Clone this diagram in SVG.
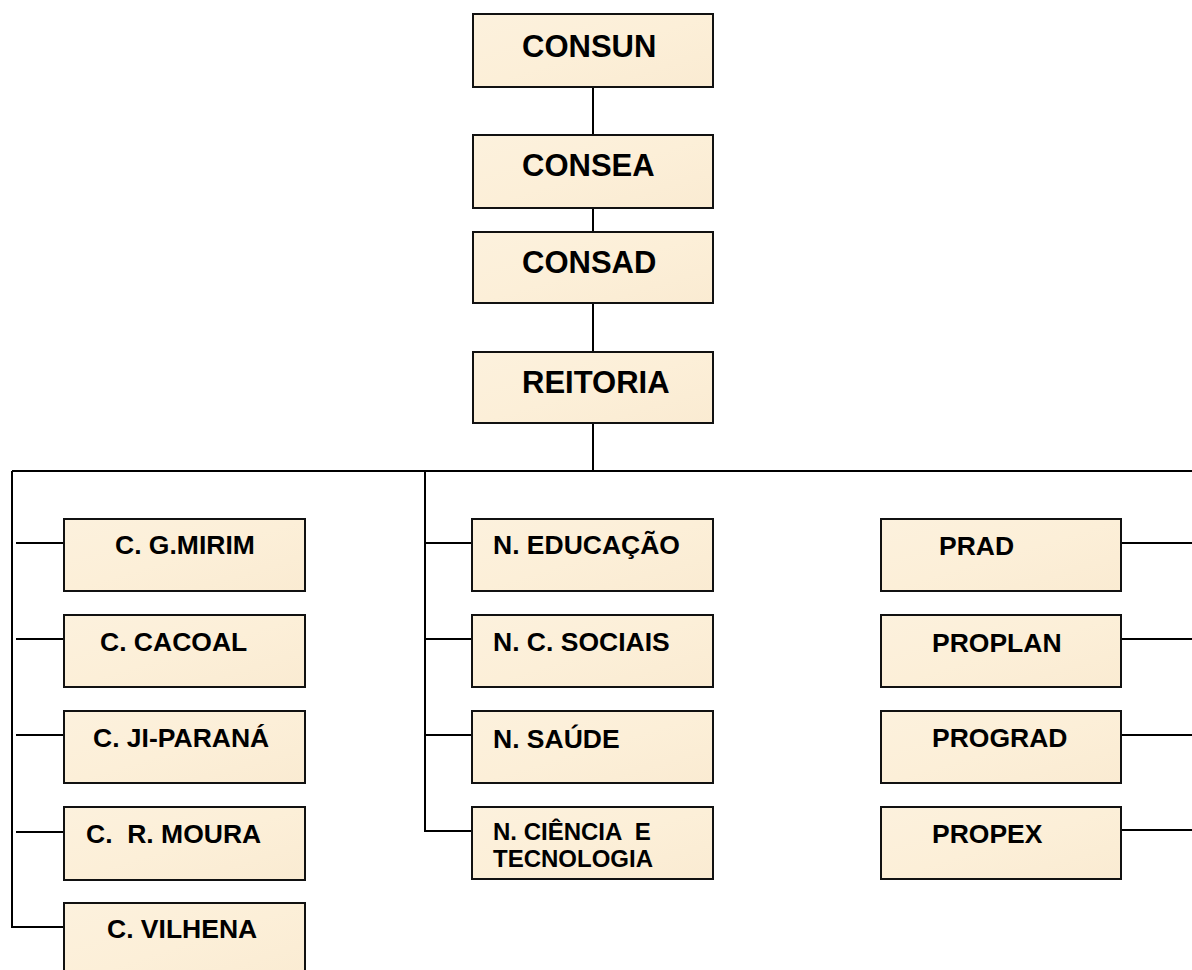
<svg xmlns="http://www.w3.org/2000/svg" width="1192" height="970" viewBox="0 0 1192 970">
<defs>
<linearGradient id="fill" x1="0" y1="0" x2="1" y2="1">
<stop offset="0" stop-color="#FCF1DD"/>
<stop offset="0.5" stop-color="#FCEFD8"/>
<stop offset="1" stop-color="#FAEBD2"/>
</linearGradient>
<style>
.box{fill:url(#fill);stroke:#111;stroke-width:2}
.big{font-family:"Liberation Sans",Arial,sans-serif;font-weight:bold;font-size:31px;fill:#000}
.lbl{font-family:"Liberation Sans",Arial,sans-serif;font-weight:bold;font-size:26.5px;fill:#000}
.sm{font-family:"Liberation Sans",Arial,sans-serif;font-weight:bold;font-size:24px;fill:#000}
.ln{stroke:#000;stroke-width:2;fill:none}
</style>
</defs>
<rect width="1192" height="970" fill="#fff"/>
<g id="connectors">
<line class="ln" x1="593" y1="87" x2="593" y2="135"/>
<line class="ln" x1="593" y1="208" x2="593" y2="232"/>
<line class="ln" x1="593" y1="303" x2="593" y2="352"/>
<line class="ln" x1="593" y1="423" x2="593" y2="471"/>
<line class="ln" x1="12" y1="471" x2="1192" y2="471"/>
<path class="ln" d="M12,471 V927 H64"/>
<line class="ln" x1="16" y1="543" x2="64" y2="543"/>
<line class="ln" x1="16" y1="639" x2="64" y2="639"/>
<line class="ln" x1="16" y1="735" x2="64" y2="735"/>
<line class="ln" x1="16" y1="832" x2="64" y2="832"/>
<path class="ln" d="M425,471 V831 H472"/>
<line class="ln" x1="425" y1="543" x2="472" y2="543"/>
<line class="ln" x1="425" y1="639" x2="472" y2="639"/>
<line class="ln" x1="425" y1="735" x2="472" y2="735"/>
<line class="ln" x1="1121" y1="543" x2="1192" y2="543"/>
<line class="ln" x1="1121" y1="639" x2="1192" y2="639"/>
<line class="ln" x1="1121" y1="735" x2="1192" y2="735"/>
<line class="ln" x1="1121" y1="830" x2="1192" y2="830"/>
</g>
<g id="consun"><rect class="box" x="473" y="14" width="240" height="73"/><text class="big" x="522" y="57">CONSUN</text></g>
<g id="consea"><rect class="box" x="473" y="135" width="240" height="73"/><text class="big" x="522" y="176">CONSEA</text></g>
<g id="consad"><rect class="box" x="473" y="232" width="240" height="71"/><text class="big" x="522" y="273">CONSAD</text></g>
<g id="reitoria"><rect class="box" x="473" y="352" width="240" height="71"/><text class="big" x="522" y="393">REITORIA</text></g>

<g id="gmirim"><rect class="box" x="64" y="519" width="241" height="72"/><text class="lbl" x="115" y="554">C. G.MIRIM</text></g>
<g id="cacoal"><rect class="box" x="64" y="615" width="241" height="72"/><text class="lbl" x="100" y="651">C. CACOAL</text></g>
<g id="jiparana"><rect class="box" x="64" y="711" width="241" height="72"/><text class="lbl" x="93" y="747">C. JI-PARANÁ</text></g>
<g id="rmoura"><rect class="box" x="64" y="807" width="241" height="73"/><text class="lbl" x="86" y="843" xml:space="preserve">C.  R. MOURA</text></g>
<g id="vilhena"><rect class="box" x="64" y="903" width="241" height="80"/><text class="lbl" x="107" y="938">C. VILHENA</text></g>

<g id="neducacao"><rect class="box" x="472" y="519" width="241" height="72"/><text class="lbl" x="493" y="554">N. EDUCAÇÃO</text></g>
<g id="nsociais"><rect class="box" x="472" y="615" width="241" height="72"/><text class="lbl" x="493" y="651">N. C. SOCIAIS</text></g>
<g id="nsaude"><rect class="box" x="472" y="711" width="241" height="72"/><text class="lbl" x="493" y="748">N. SAÚDE</text></g>
<g id="nciencia"><rect class="box" x="472" y="807" width="241" height="72"/><text class="sm" x="493" y="840" xml:space="preserve">N. CIÊNCIA  E</text><text class="sm" x="493" y="867">TECNOLOGIA</text></g>

<g id="prad"><rect class="box" x="881" y="519" width="240" height="72"/><text class="lbl" x="939" y="555">PRAD</text></g>
<g id="proplan"><rect class="box" x="881" y="615" width="240" height="72"/><text class="lbl" x="932" y="652">PROPLAN</text></g>
<g id="prograd"><rect class="box" x="881" y="711" width="240" height="72"/><text class="lbl" x="932" y="747">PROGRAD</text></g>
<g id="propex"><rect class="box" x="881" y="807" width="240" height="72"/><text class="lbl" x="932" y="843">PROPEX</text></g>
</svg>
